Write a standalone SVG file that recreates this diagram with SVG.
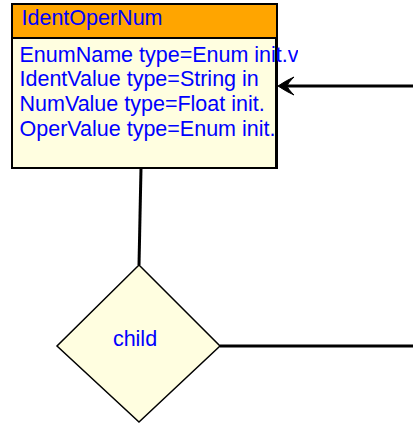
<svg xmlns="http://www.w3.org/2000/svg" width="413" height="424" viewBox="0 0 413 424">
<style>
.t{font-family:"Liberation Sans",Arial,sans-serif;font-size:21.5px;fill:#0000FF}
.c{stroke:#000;stroke-width:3;fill:none}
</style>
<defs>
<clipPath id="clip"><rect x="12" y="38" width="286" height="130"/></clipPath>
</defs>
<rect width="413" height="424" fill="#fff"/>
<g id="IdentOperNum">
<rect x="12" y="38" width="265" height="130" fill="#FFFEE0" stroke="#000" stroke-width="2"/>
<rect x="12" y="4" width="265" height="34" fill="#FFA500" stroke="#000" stroke-width="2"/>
<text class="t" x="21.5" y="25">IdentOperNum</text>
<g clip-path="url(#clip)">
<text class="t" x="19.5" y="61.5">EnumName type=Enum init.value</text>
<text class="t" x="19.5" y="86">IdentValue type=String in</text>
<text class="t" x="19.5" y="110.7">NumValue type=Float init.</text>
<text class="t" x="19.5" y="135.5">OperValue type=Enum init.</text>
</g>
<line x1="276" y1="38" x2="276" y2="168" stroke="#000" stroke-width="2"/>
</g>
<g id="child">
<polygon points="139,265 220,346 139,422 57,346" fill="#FFFEE0" stroke="#000" stroke-width="1.5"/>
<text class="t" x="135" y="345.7" text-anchor="middle">child</text>
</g>
<g id="connectors">
<line class="c" x1="141" y1="168" x2="139" y2="265"/>
<line class="c" x1="220" y1="346" x2="413" y2="346"/>
<line class="c" x1="413" y1="86" x2="282" y2="86"/>
<path d="M278,86 Q287,80 294,77 Q288,83 287,86 Q288,89 294,95 Q287,92 278,86 Z" fill="#000" stroke="#000" stroke-width="1"/>
</g>
</svg>
